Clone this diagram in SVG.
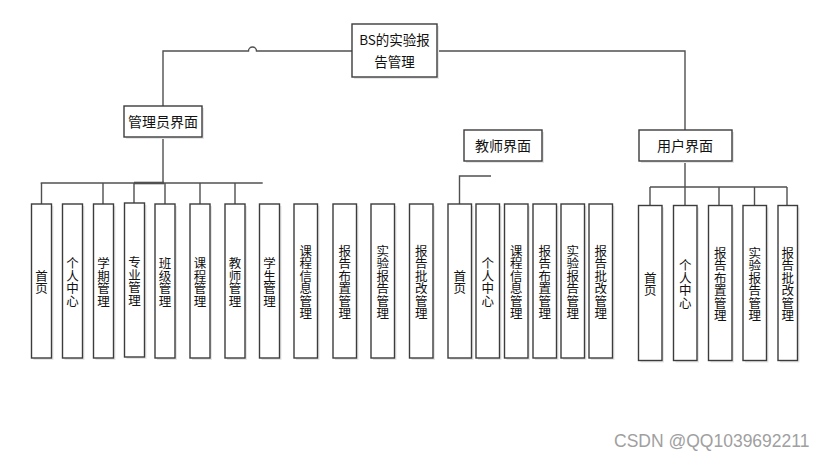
<svg xmlns="http://www.w3.org/2000/svg" width="827" height="458" viewBox="0 0 827 458">
<style>
.bx{fill:#fff;stroke:#3c3c3c;stroke-width:1.4}
.sh{fill:#e6e6e6;stroke:none}
.ln{fill:none;stroke:#505050;stroke-width:1.4}
.t{font-family:"Noto Sans CJK SC","Liberation Sans",sans-serif;font-size:14px;fill:#111;text-anchor:middle}
.v{font-family:"Noto Sans CJK SC",sans-serif;font-size:12.5px;fill:#111;text-anchor:middle;writing-mode:vertical-rl}
.wm{font-family:"Liberation Sans",sans-serif;font-size:17.5px;fill:#a0a0a0}
</style>
<rect width="827" height="458" fill="#fff"/>
<g id="connectors">
<path class="ln" d="M352,51 H256.5 A4,4 0 0 0 248.5,51 H163 V106"/>
<path class="ln" d="M437,51 H685 V130"/>
<path class="ln" d="M163,137 V183"/>
<path class="ln" d="M40.7,183 H262.7"/>
<path class="ln" d="M134,183 H164" style="stroke-width:2.6"/>
<path class="ln" d="M41.5,183 V204 M103,183 V204 M134,183 V203 M165,183 V204 M200,183 V204 M235,183 V204"/>
<path class="ln" d="M459.5,204 V176 H491"/>
<path class="ln" d="M685,161 V187 M650,187 H787 M650,187 V205.5 M685,187 V205.5 M719,187 V205.5 M754.5,187 V205.5 M787,187 V205.5"/>
</g>
<g id="root">
<rect class="sh" x="354" y="26" width="85" height="53"/>
<rect class="bx" x="352" y="24" width="85" height="53"/>
<text class="t" x="394.5" y="45" style="font-size:13.5px">BS的实验报</text>
<text class="t" x="394.5" y="66.5" style="font-size:13.5px">告管理</text>
</g>
<g id="admin">
<rect class="sh" x="126" y="108" width="78" height="31"/>
<rect class="bx" x="124" y="106" width="78" height="31"/>
<text class="t" x="163" y="126.5">管理员界面</text>
</g>
<g id="teacher">
<rect class="sh" x="466" y="132" width="78" height="31"/>
<rect class="bx" x="464" y="130" width="78" height="31"/>
<text class="t" x="503" y="151">教师界面</text>
</g>
<g id="user">
<rect class="sh" x="641" y="132" width="93" height="31"/>
<rect class="bx" x="639" y="130" width="93" height="31"/>
<text class="t" x="685" y="151">用户界面</text>
</g>
<g id="a1"><rect class="sh" x="33.5" y="206" width="20" height="154"/><rect class="bx" x="31.5" y="204" width="20" height="154"/><text class="v" x="41.5" y="282">首页</text></g>
<g id="a2"><rect class="sh" x="64.5" y="206" width="20" height="154"/><rect class="bx" x="62.5" y="204" width="20" height="154"/><text class="v" x="72.5" y="282">个人中心</text></g>
<g id="a3"><rect class="sh" x="95.5" y="206" width="20" height="154"/><rect class="bx" x="93.5" y="204" width="20" height="154"/><text class="v" x="103.5" y="282">学期管理</text></g>
<g id="a4"><rect class="sh" x="126.5" y="205" width="20" height="154"/><rect class="bx" x="124.5" y="203" width="20" height="154"/><text class="v" x="134.5" y="281">专业管理</text></g>
<g id="a5"><rect class="sh" x="157" y="206" width="20" height="154"/><rect class="bx" x="155" y="204" width="20" height="154"/><text class="v" x="165" y="282">班级管理</text></g>
<g id="a6"><rect class="sh" x="192" y="206" width="20" height="154"/><rect class="bx" x="190" y="204" width="20" height="154"/><text class="v" x="200" y="282">课程管理</text></g>
<g id="a7"><rect class="sh" x="227" y="206" width="20" height="154"/><rect class="bx" x="225" y="204" width="20" height="154"/><text class="v" x="235" y="282">教师管理</text></g>
<g id="a8"><rect class="sh" x="261.5" y="206" width="20" height="154"/><rect class="bx" x="259.5" y="204" width="20" height="154"/><text class="v" x="269.5" y="282">学生管理</text></g>
<g id="a9"><rect class="sh" x="296" y="206" width="23.5" height="154"/><rect class="bx" x="294" y="204" width="23.5" height="154"/><text class="v" x="305.75" y="282">课程信息管理</text></g>
<g id="a10"><rect class="sh" x="335" y="206" width="23.5" height="154"/><rect class="bx" x="333" y="204" width="23.5" height="154"/><text class="v" x="344.75" y="282">报告布置管理</text></g>
<g id="a11"><rect class="sh" x="373" y="206" width="23.5" height="154"/><rect class="bx" x="371" y="204" width="23.5" height="154"/><text class="v" x="382.75" y="282">实验报告管理</text></g>
<g id="a12"><rect class="sh" x="411.5" y="206" width="23.5" height="154"/><rect class="bx" x="409.5" y="204" width="23.5" height="154"/><text class="v" x="421.25" y="282">报告批改管理</text></g>
<g id="t1"><rect class="sh" x="450" y="206" width="23.5" height="154"/><rect class="bx" x="448" y="204" width="23.5" height="154"/><text class="v" x="459.75" y="282">首页</text></g>
<g id="t2"><rect class="sh" x="478" y="206" width="23.5" height="154"/><rect class="bx" x="476" y="204" width="23.5" height="154"/><text class="v" x="487.75" y="282">个人中心</text></g>
<g id="t3"><rect class="sh" x="506.5" y="206" width="23.5" height="154"/><rect class="bx" x="504.5" y="204" width="23.5" height="154"/><text class="v" x="516.25" y="282">课程信息管理</text></g>
<g id="t4"><rect class="sh" x="535" y="206" width="23.5" height="154"/><rect class="bx" x="533" y="204" width="23.5" height="154"/><text class="v" x="544.75" y="282">报告布置管理</text></g>
<g id="t5"><rect class="sh" x="563" y="206" width="23.5" height="154"/><rect class="bx" x="561" y="204" width="23.5" height="154"/><text class="v" x="572.75" y="282">实验报告管理</text></g>
<g id="t6"><rect class="sh" x="591" y="206" width="23.5" height="154"/><rect class="bx" x="589" y="204" width="23.5" height="154"/><text class="v" x="600.75" y="282">报告批改管理</text></g>
<g id="u1"><rect class="sh" x="640.5" y="207.5" width="23.5" height="155"/><rect class="bx" x="638.5" y="205.5" width="23.5" height="155"/><text class="v" x="650.25" y="284">首页</text></g>
<g id="u2"><rect class="sh" x="675.5" y="207.5" width="23.5" height="155"/><rect class="bx" x="673.5" y="205.5" width="23.5" height="155"/><text class="v" x="685.25" y="284">个人中心</text></g>
<g id="u3"><rect class="sh" x="710.5" y="207.5" width="23.5" height="155"/><rect class="bx" x="708.5" y="205.5" width="23.5" height="155"/><text class="v" x="720.25" y="284">报告布置管理</text></g>
<g id="u4"><rect class="sh" x="745" y="207.5" width="23.5" height="155"/><rect class="bx" x="743" y="205.5" width="23.5" height="155"/><text class="v" x="754.75" y="284">实验报告管理</text></g>
<g id="u5"><rect class="sh" x="780" y="207.5" width="19.5" height="155"/><rect class="bx" x="778" y="205.5" width="19.5" height="155"/><text class="v" x="787.75" y="284">报告批改管理</text></g>
<text class="wm" x="614" y="446.5">CSDN @QQ1039692211</text>
</svg>
